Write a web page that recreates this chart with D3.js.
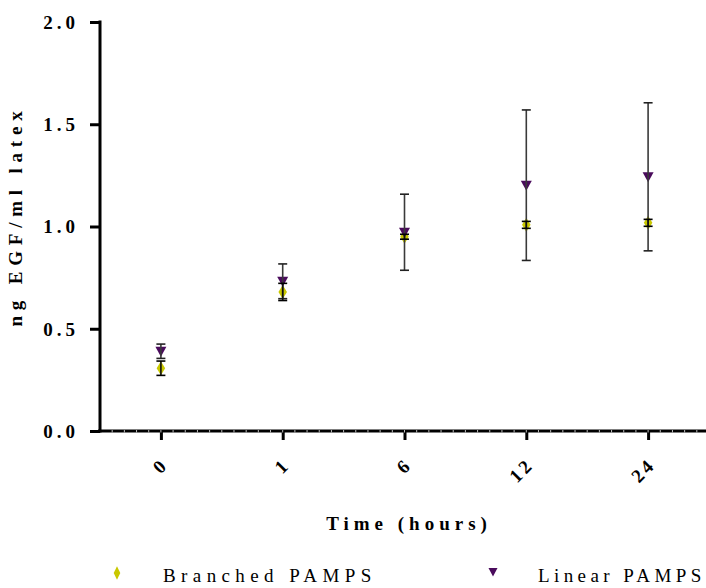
<!DOCTYPE html>
<html>
<head>
<meta charset="utf-8">
<script src="https://cdn.jsdelivr.net/npm/d3@7"></script>
<style>
  html, body { margin: 0; padding: 0; background: #fff; }
  svg { display: block; }
  text { font-family: "Liberation Serif", "DejaVu Serif", serif; fill: #000; }
</style>
</head>
<body>
<svg id="chart" width="706" height="588"></svg>
<script>
// Time points (hours) shown as categories
const timePoints = ["0", "1", "6", "12", "24"];

// Mean EGF uptake (ng EGF / ml latex) and error (SD) for each polymer
const branchedMean = [0.307, 0.68, 0.95, 1.008, 1.018];
const branchedErr  = [0.035, 0.042, 0.012, 0.017, 0.017];
const linearMean   = [0.39, 0.732, 0.972, 1.202, 1.243];
const linearErr    = [0.035, 0.085, 0.186, 0.368, 0.362];

const yTicks = [0, 0.5, 1.0, 1.5, 2.0];

const seriesNames = ["Branched PAMPS", "Linear PAMPS"];
const seriesColors = ["#c9c800", "#4a0b5c"];

const svg = d3.select("#chart");

const x = d3.scalePoint()
  .domain(timePoints)
  .range([100, 709])
  .padding(0.5);

const y = d3.scaleLinear()
  .domain([0, 2])
  .range([431, 22]);

// Y axis
const yAxis = d3.axisLeft(y)
  .tickValues(yTicks)
  .tickFormat(d3.format(".1f"))
  .tickSize(10)
  .tickPadding(11);

const gy = svg.append("g")
  .attr("transform", "translate(100,0)")
  .call(yAxis);
gy.attr("font-size", null).attr("font-family", null);
gy.select(".domain").attr("stroke", "#000").attr("stroke-width", 3)
  .attr("d", "M0,20.5V432.5");
gy.selectAll(".tick line").attr("stroke", "#000").attr("stroke-width", 3);
gy.selectAll(".tick text")
  .style("font-size", "19px")
  .style("font-weight", "bold")
  .style("letter-spacing", "4px")
  .attr("dy", "0.34em");

// X axis
const xAxis = d3.axisBottom(x)
  .tickSize(9)
  .tickFormat(d => d);

const gx = svg.append("g")
  .attr("transform", "translate(0,431)")
  .call(xAxis);
gx.attr("font-size", null).attr("font-family", null);
gx.select(".domain").attr("stroke", "#000").attr("stroke-width", 3)
  .attr("d", "M98,0H706");
gx.selectAll(".tick line").attr("stroke", "#000").attr("stroke-width", 3);
gx.selectAll(".tick text")
  .style("font-size", "19px")
  .style("font-weight", "bold")
  .style("letter-spacing", "3px")
  .attr("text-anchor", "end")
  .attr("y", 0)
  .attr("dy", 0)
  .attr("transform", "translate(8,35) rotate(-45)");

// faint minor ticks along the time axis
const step = x.step();
const minor = [];
for (let i = 0; ; i++) {
  const px = x(timePoints[0]) - step / 2 + i * step / 10;
  if (px > 706) break;
  if (px > 101) minor.push(px);
}
gx.selectAll(".minor").data(minor).enter().append("line")
  .attr("class", "minor")
  .attr("x1", d => d).attr("x2", d => d)
  .attr("y1", -1).attr("y2", 1.5)
  .attr("stroke", "#bbb").attr("stroke-width", 1);

// Axis titles
svg.append("text")
  .attr("transform", "translate(22,216) rotate(-90)")
  .attr("text-anchor", "middle")
  .style("font-size", "19px")
  .style("font-weight", "bold")
  .style("letter-spacing", "5.8px")
  .text("ng EGF/ml latex");

svg.append("text")
  .attr("x", 409)
  .attr("y", 530)
  .attr("text-anchor", "middle")
  .style("font-size", "19px")
  .style("font-weight", "bold")
  .style("letter-spacing", "5px")
  .text("Time (hours)");

// Marker shapes
const diamond = d3.symbol().type(d3.symbolDiamond).size(52);
const triangleDown = "M-5.5,-4.5L5.5,-4.5L0,5.5Z";

const branched = timePoints.map((t, i) => ({ t, m: branchedMean[i], e: branchedErr[i] }));
const linear = timePoints.map((t, i) => ({ t, m: linearMean[i], e: linearErr[i] }));

// Markers
svg.append("g").selectAll("path").data(branched).enter().append("path")
  .attr("d", diamond)
  .attr("transform", d => `translate(${x(d.t)},${y(d.m)}) scale(1.1,1.05)`)
  .attr("fill", seriesColors[0]);

svg.append("g").selectAll("path").data(linear).enter().append("path")
  .attr("d", triangleDown)
  .attr("transform", d => `translate(${x(d.t)},${y(d.m)})`)
  .attr("fill", seriesColors[1]);

// Error bars
function errorBars(data, lineColor, capColor) {
  const g = svg.append("g");
  const bars = g.selectAll("g").data(data).enter().append("g");
  bars.append("line")
    .attr("x1", d => x(d.t)).attr("x2", d => x(d.t))
    .attr("y1", d => y(d.m + d.e)).attr("y2", d => y(d.m - d.e))
    .attr("stroke", lineColor).attr("stroke-width", 1.6);
  [1, -1].forEach(s => {
    bars.append("line")
      .attr("x1", d => x(d.t) - 4.5).attr("x2", d => x(d.t) + 4.5)
      .attr("y1", d => y(d.m + s * d.e)).attr("y2", d => y(d.m + s * d.e))
      .attr("stroke", capColor).attr("stroke-width", 1.6);
  });
}
errorBars(linear, "#3a3a3a", "#222");
errorBars(branched, "#111", "#000");

// Legend
const legend = svg.append("g");
legend.append("path")
  .attr("d", diamond)
  .attr("transform", "translate(117,573) scale(0.85,1)")
  .attr("fill", seriesColors[0]);
legend.append("text")
  .attr("x", 163).attr("y", 582)
  .style("font-size", "19px")
  .style("letter-spacing", "5.4px")
  .text(seriesNames[0]);
legend.append("path")
  .attr("d", "M-4.5,-4L4.5,-4L0,4.5Z")
  .attr("transform", "translate(493,572)")
  .attr("fill", seriesColors[1]);
legend.append("text")
  .attr("x", 538).attr("y", 582)
  .style("font-size", "19px")
  .style("letter-spacing", "4.4px")
  .text(seriesNames[1]);
</script>
</body>
</html>
